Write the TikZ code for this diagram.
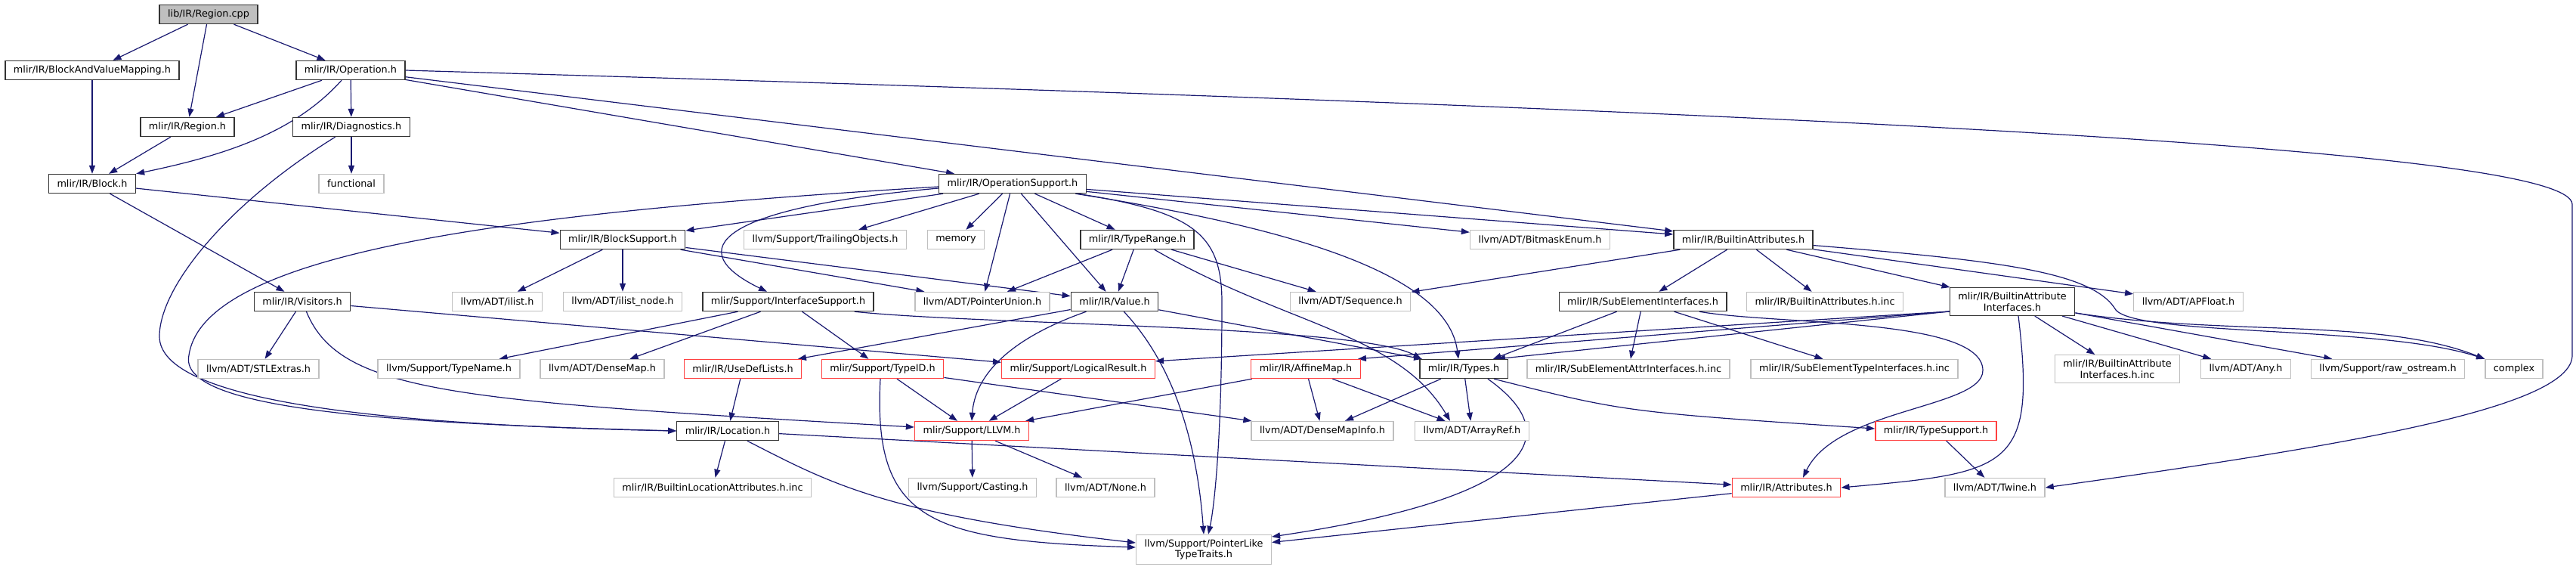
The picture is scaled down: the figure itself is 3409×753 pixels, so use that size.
\documentclass[tikz,border=0pt]{standalone}
\usepackage{fontspec}
\setmainfont{DejaVu Sans}
\usetikzlibrary{arrows.meta}
\usetikzlibrary{backgrounds}
\definecolor{edgeblue}{RGB}{25,25,112}
\definecolor{sysgray}{RGB}{191,191,191}
\definecolor{cutred}{RGB}{255,64,64}
\tikzset{hdr/.style = {draw=black!80, fill=white, line width=1.4pt,
                       font=\fontsize{12.8}{14.7}\selectfont,
                       inner xsep=11pt, inner ysep=6pt,
                       minimum height=25pt, align=center},
         sys/.style = {hdr, draw=sysgray},
         cut/.style = {hdr, draw=cutred},
         dep/.style = {draw=edgeblue, line width=1.2pt,
                       -{Triangle[length=11pt,width=8pt]}}}

\begin{document}
\begin{tikzpicture}[x=1pt,y=-1pt]
  \useasboundingbox (0,0) rectangle (3409,753);
  % rows of headers
  \node [hdr, fill=sysgray] (root) at (276,19) {lib/IR/Region.cpp};
  \node [hdr] (bavm)        at (122,93)  {mlir/IR/BlockAndValueMapping.h};
  \node [hdr] (operation)   at (464,93)  {mlir/IR/Operation.h};
  \node [hdr] (region)      at (248,168) {mlir/IR/Region.h};
  \node [hdr] (diagnostics) at (465,168) {mlir/IR/Diagnostics.h};
  \node [hdr] (block)       at (122,243) {mlir/IR/Block.h};
  \node [sys] (functional)  at (465,243) {functional};
  \node [hdr] (opsupport)   at (1340,243) {mlir/IR/OperationSupport.h};

  \node [hdr] (blocksupport) at (824,317)  {mlir/IR/BlockSupport.h};
  \node [sys] (trailing)     at (1092,317) {llvm/Support/TrailingObjects.h};
  \node [sys] (memory)       at (1265,317) {memory};
  \node [hdr] (typerange)    at (1505,317) {mlir/IR/TypeRange.h};
  \node [sys] (bitmask)      at (2038,317) {llvm/ADT/BitmaskEnum.h};
  \node [hdr] (builtinattrs) at (2307,317) {mlir/IR/BuiltinAttributes.h};

  \node [hdr] (visitors)     at (400,399)  {mlir/IR/Visitors.h};
  \node [sys] (ilist)        at (658,399)  {llvm/ADT/ilist.h};
  \node [sys] (ilistnode)    at (824,399)  {llvm/ADT/ilist\_node.h};
  \node [hdr] (ifacesupport) at (1043,399) {mlir/Support/InterfaceSupport.h};
  \node [sys] (ptrunion)     at (1300,399) {llvm/ADT/PointerUnion.h};
  \node [hdr] (value)        at (1475,399) {mlir/IR/Value.h};
  \node [sys] (sequence)     at (1787,399) {llvm/ADT/Sequence.h};
  \node [hdr] (subelem)      at (2174,399) {mlir/IR/SubElementInterfaces.h};
  \node [sys] (battrsinc)    at (2415,399) {mlir/IR/BuiltinAttributes.h.inc};
  \node [hdr] (battrifaces)  at (2663,399) {mlir/IR/BuiltinAttribute\\Interfaces.h};
  \node [sys] (apfloat)      at (2896,399) {llvm/ADT/APFloat.h};

  \node [sys] (stlextras)      at (342,488)  {llvm/ADT/STLExtras.h};
  \node [sys] (typename)       at (594,488)  {llvm/Support/TypeName.h};
  \node [sys] (densemap)       at (797,488)  {llvm/ADT/DenseMap.h};
  \node [cut] (usedef)         at (983,488)  {mlir/IR/UseDefLists.h};
  \node [cut] (typeid)         at (1168,488) {mlir/Support/TypeID.h};
  \node [cut] (logical)        at (1427,488) {mlir/Support/LogicalResult.h};
  \node [cut] (affinemap)      at (1728,488) {mlir/IR/AffineMap.h};
  \node [hdr] (types)          at (1937,488) {mlir/IR/Types.h};
  \node [sys] (subattrinc)     at (2155,488) {mlir/IR/SubElementAttrInterfaces.h.inc};
  \node [sys] (subtypeinc)     at (2454,488) {mlir/IR/SubElementTypeInterfaces.h.inc};
  \node [sys] (battrifacesinc) at (2802,488) {mlir/IR/BuiltinAttribute\\Interfaces.h.inc};
  \node [sys] (adtany)         at (2972,488) {llvm/ADT/Any.h};
  \node [sys] (rawostream)     at (3160,488) {llvm/Support/raw\_ostream.h};
  \node [sys] (complex)        at (3327,488) {complex};

  \node [hdr] (location)     at (963,570)  {mlir/IR/Location.h};
  \node [cut] (llvmh)        at (1286,570) {mlir/Support/LLVM.h};
  \node [sys] (densemapinfo) at (1750,570) {llvm/ADT/DenseMapInfo.h};
  \node [sys] (arrayref)     at (1948,570) {llvm/ADT/ArrayRef.h};
  \node [cut] (typesupport)  at (2562,570) {mlir/IR/TypeSupport.h};

  \node [sys] (builtinloc) at (943,645)  {mlir/IR/BuiltinLocationAttributes.h.inc};
  \node [sys] (casting)    at (1287,645) {llvm/Support/Casting.h};
  \node [sys] (adtnone)    at (1463,645) {llvm/ADT/None.h};
  \node [cut] (attributes) at (2364,645) {mlir/IR/Attributes.h};
  \node [sys] (twine)      at (2640,645) {llvm/ADT/Twine.h};

  \node [sys] (ptrlike) at (1593,727) {llvm/Support/PointerLike\\TypeTraits.h};

  \begin{scope}[on background layer]
    % straight includes
    \foreach \a/\b in {root/bavm, root/region, root/operation, bavm/block,
        operation/region, operation/diagnostics, operation/opsupport,
        operation/builtinattrs, region/block, diagnostics/functional,
        block/blocksupport, block/visitors, opsupport/blocksupport,
        opsupport/trailing, opsupport/memory, opsupport/ptrunion,
        opsupport/value, opsupport/typerange, opsupport/bitmask,
        opsupport/builtinattrs, blocksupport/ilist, blocksupport/ilistnode,
        blocksupport/ptrunion, blocksupport/value, typerange/ptrunion,
        typerange/value, typerange/sequence, builtinattrs/sequence,
        builtinattrs/subelem, builtinattrs/battrsinc,
        builtinattrs/battrifaces, builtinattrs/apfloat, visitors/stlextras,
        visitors/logical, ifacesupport/typename, ifacesupport/densemap,
        ifacesupport/typeid, value/usedef, subelem/subattrinc,
        subelem/subtypeinc, battrifaces/battrifacesinc, battrifaces/adtany,
        battrifaces/rawostream, usedef/location, typeid/llvmh,
        typeid/densemapinfo, logical/llvmh, affinemap/densemapinfo,
        affinemap/arrayref, affinemap/llvmh, types/densemapinfo,
        types/arrayref, location/builtinloc, location/attributes,
        llvmh/casting, llvmh/adtnone, typesupport/twine, attributes/ptrlike}
      \draw [dep] (\a) -- (\b);

    \draw [dep] (value) -- ([xshift=4pt]types.north west);
    \draw [dep] (subelem) -- ([xshift=-20pt]types.north east);
    \draw [dep] ([yshift=6pt]battrifaces.south west) -- ([xshift=-15pt]types.north east);
    \draw [dep] ([yshift=6pt]battrifaces.south west) -- ([yshift=-3pt]logical.north east);
    \draw [dep] ([yshift=6pt]battrifaces.south west) -- ([xshift=-4pt]affinemap.north east);

    % curved includes
    \draw [dep] (operation) .. controls (390,175) and (300,205) .. (block.north east);
    \draw [dep] (operation.east) .. controls (2500,150) and (3400,200) .. (3404,270)
      -- (3404,470) .. controls (3404,540) and (3100,590) .. (twine.east);
    \draw [dep] (diagnostics) .. controls (300,270) and (211,380) .. (211,445)
      .. controls (211,530) and (500,562) .. (location.west);
    \draw [dep] ([yshift=-4pt]opsupport.west) .. controls (700,280) and (270,330) .. (250,470)
      .. controls (235,540) and (500,560) .. (location.west);
    \draw [dep] ([yshift=-6pt]opsupport.west) .. controls (950,275) and (900,330)
      .. ([xshift=-28pt]ifacesupport.north);
    \draw [dep] (opsupport) .. controls (1580,280) and (1617,310) .. (1617,400)
      .. controls (1617,600) and (1605,680) .. ([xshift=6pt]ptrlike.north);
    \draw [dep] (opsupport) .. controls (1700,300) and (1915,360) .. ([xshift=-7pt]types.north);
    \draw [dep] (typerange) .. controls (1700,430) and (1850,440) .. ([xshift=-29pt]arrayref.north);
    \draw [dep] ([xshift=-26pt]ifacesupport.south east) .. controls (1300,430) and (1800,430)
      .. ([xshift=3pt]types.north west);
    \draw [dep] (value) .. controls (1330,450) and (1290,500) .. (llvmh.north);
    \draw [dep] (value) .. controls (1560,490) and (1585,600) .. (ptrlike.north);
    \draw [dep] (visitors) .. controls (450,520) and (600,530) .. ([yshift=5pt]llvmh.west);
    \draw [dep] (builtinattrs) .. controls (2650,345) and (2770,360) .. (2800,410)
      .. controls (2830,445) and (3150,430) .. (complex.north west);
    \draw [dep] (subelem) .. controls (2350,430) and (2624,420) .. (2624,490)
      .. controls (2624,540) and (2430,540) .. ([xshift=22pt]attributes.north);
    \draw [dep] ([xshift=8pt]battrifaces.south) .. controls (2695,620) and (2660,625)
      .. (attributes.east);
    \draw [dep] ([yshift=4pt]battrifaces.south east) .. controls (2950,445) and (3150,420)
      .. (complex.north west);
    \draw [dep] ([xshift=-27pt]types.south east) .. controls (2080,580) and (2020,660)
      .. ([yshift=17pt]ptrlike.east);
    \draw [dep] ([xshift=-19pt]types.south east) .. controls (2150,545)
      .. ([yshift=3pt]typesupport.west);
    \draw [dep] (location) .. controls (1100,640) and (1170,680) .. ([yshift=9pt]ptrlike.west);
    \draw [dep] ([xshift=-3pt]typeid.south) .. controls (1155,690) and (1230,715)
      .. ([yshift=3pt]ptrlike.west);
  \end{scope}
\end{tikzpicture}
\end{document}
